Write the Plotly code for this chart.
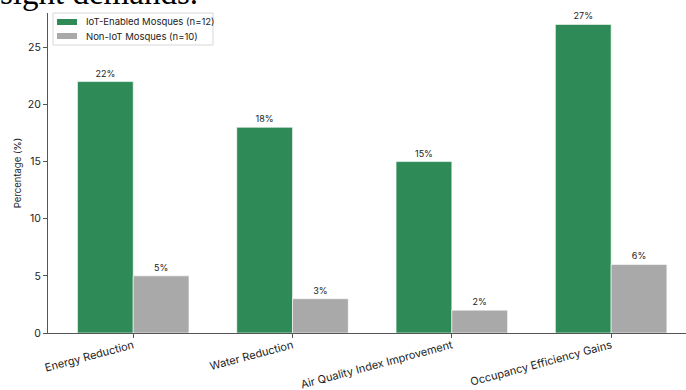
import plotly.graph_objects as go

categories = ["Energy Reduction", "Water Reduction", "Air Quality Index Improvement", "Occupancy Efficiency Gains"]
iot_values = [22, 18, 15, 27]
non_iot_values = [5, 3, 2, 6]
series_names = ["IoT-Enabled Mosques (n=12)", "Non-IoT Mosques (n=10)"]
series_colors = ["#2E8B57", "#A9A9A9"]
y_ticks = [0, 5, 10, 15, 20, 25]

FONT = "Inter, Open Sans, sans-serif"
W, H = 686, 390
L, R, T, B = 48, 0, 13, 57
PW, PH = W - L - R, H - T - B


def px(x):
    return (x - L) / PW


def py(y):
    return (H - B - y) / PH


fig = go.Figure()
for vals, name, col in zip([iot_values, non_iot_values], series_names, series_colors):
    fig.add_trace(go.Bar(
        x=categories, y=vals, name=name,
        marker=dict(color=col, line=dict(color="white", width=0.6)),
        text=[f"{v}%" for v in vals], textposition="outside",
        textfont=dict(size=9, color="#222", family=FONT), cliponaxis=False,
    ))

fig.update_layout(
    width=W, height=H,
    margin=dict(l=L, r=R, t=T, b=B, autoexpand=False),
    paper_bgcolor="white", plot_bgcolor="white",
    barmode="group", bargap=0.3, bargroupgap=0,
    font=dict(family=FONT, size=10, color="#222"),
    showlegend=False,
)
fig.update_xaxes(
    range=[-0.535, 3.47], showline=True, linecolor="#555", linewidth=1,
    ticks="outside", ticklen=4, tickcolor="#555", tickangle=-15,
    tickfont=dict(size=11, family=FONT, color="#222"), showgrid=False, zeroline=False,
    automargin=False, ticklabelstandoff=-3,
)
fig.update_yaxes(
    range=[0, 28], tickvals=y_ticks, showline=True, linecolor="#555", linewidth=1,
    ticks="outside", ticklen=4, tickcolor="#555",
    tickfont=dict(size=10.5, family=FONT, color="#222"), showgrid=False, zeroline=False,
    title=dict(text="Percentage (%)", font=dict(size=9.5, family=FONT, color="#222"), standoff=4),
    automargin=False,
)

# legend drawn manually (matplotlib style)
fig.add_shape(type="rect", xref="paper", yref="paper",
              x0=px(53), x1=px(213), y0=py(45), y1=py(13),
              line=dict(color="#d8d8d8", width=1), fillcolor="white")
for i, (name, col) in enumerate(zip(series_names, series_colors)):
    yc = 22 + 14 * i
    fig.add_shape(type="rect", xref="paper", yref="paper",
                  x0=px(57), x1=px(77), y0=py(yc + 3), y1=py(yc - 3),
                  line=dict(width=0), fillcolor=col)
    fig.add_annotation(text=name, xref="paper", yref="paper",
                       x=px(84), y=py(yc), xanchor="left", yanchor="middle",
                       showarrow=False, font=dict(size=9.5, family=FONT, color="#222"))

fig.add_annotation(
    text="sight demands.", xref="paper", yref="paper",
    x=-0.078, y=1.0, xanchor="left", yanchor="bottom", yshift=0,
    showarrow=False, font=dict(family="Liberation Serif, serif", size=33, color="black"),
)

fig.write_html("out.html")
